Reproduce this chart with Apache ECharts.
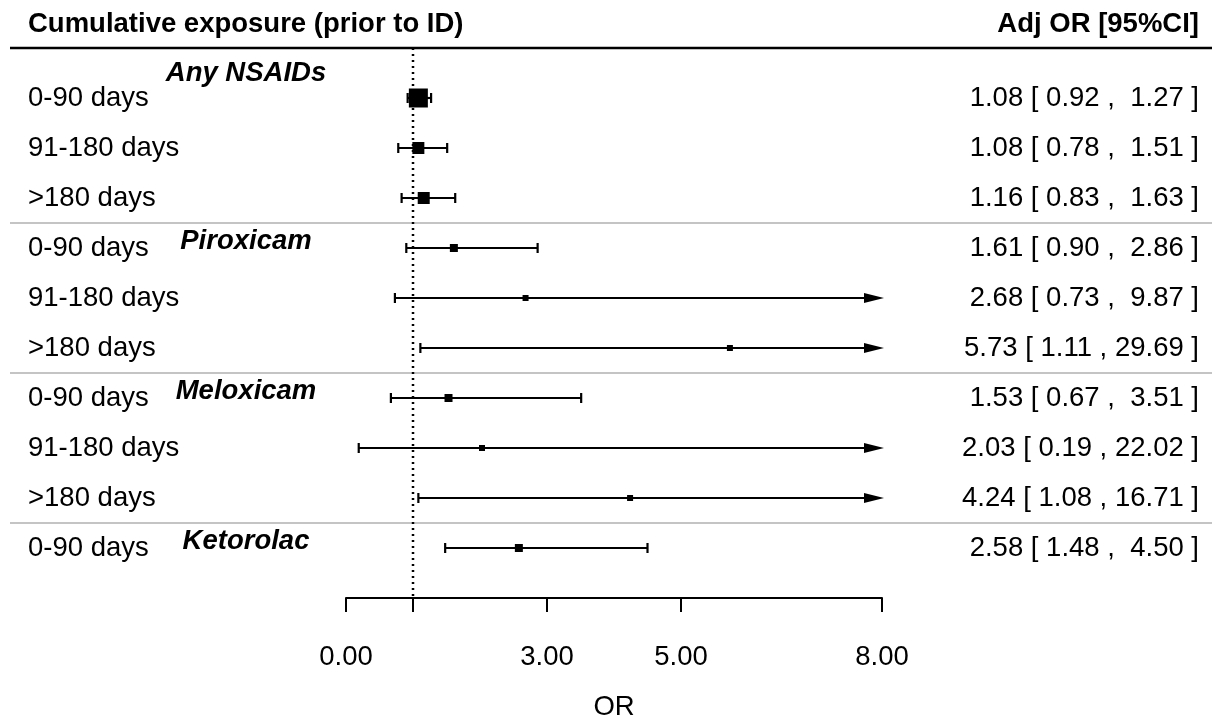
<!DOCTYPE html>
<html>
<head>
<meta charset="utf-8">
<script src="https://cdn.jsdelivr.net/npm/echarts@6/dist/echarts.min.js"></script>
<style>
  html, body { margin: 0; padding: 0; background: #fff; }
  #chart { width: 1212px; height: 719px; }
</style>
</head>
<body>
<div id="chart"></div>
<script>
// rows of the forest plot
const rowLabels = ['0-90 days', '91-180 days', '>180 days',
                   '0-90 days', '91-180 days', '>180 days',
                   '0-90 days', '91-180 days', '>180 days',
                   '0-90 days'];
const orValues = [1.08, 1.08, 1.16, 1.61, 2.68, 5.73, 1.53, 2.03, 4.24, 2.58];
const ciLower  = [0.92, 0.78, 0.83, 0.90, 0.73, 1.11, 0.67, 0.19, 1.08, 1.48];
const ciUpper  = [1.27, 1.51, 1.63, 2.86, 9.87, 29.69, 3.51, 22.02, 16.71, 4.50];

const groupNames = ['Any NSAIDs', 'Piroxicam', 'Meloxicam', 'Ketorolac'];
const groupStart = [0, 3, 6, 9];

const xTicks = [0, 1, 3, 5, 8];
const xTickLabels = [0, 3, 5, 8];
const refValue = 1;

// box sizes as drawn (px)
const boxSizes = [19, 12, 12, 8, 6, 6, 8, 6, 6, 8];

const FONT = '"Liberation Sans", Arial, sans-serif';
const FS = 27.5;
const X_MAX = 8;

const chart = echarts.init(document.getElementById('chart'));

const fmtRow = i =>
  orValues[i].toFixed(2) + ' [ ' + ciLower[i].toFixed(2) + ' , ' +
  ciUpper[i].toFixed(2).padStart(5, ' ') + ' ]';

const rowData = orValues.map((v, i) => [i, v, ciLower[i], ciUpper[i]]);

function renderRow(params, api) {
  const i = params.dataIndex;
  const row = api.value(0);
  const lo = api.value(2), hi = api.value(3), or = api.value(1);
  const y = api.coord([0, row])[1];
  const xLo = api.coord([lo, row])[0];
  const xOr = api.coord([or, row])[0];
  const clipped = hi > X_MAX;
  const xHi = api.coord([clipped ? X_MAX : hi, row])[0];
  const arrowLen = 18, arrowH = 5, cap = 5;
  const lineStyle = { stroke: '#000', lineWidth: 2.2 };
  const children = [];
  children.push({ type: 'line', shape: { x1: xLo, y1: y, x2: clipped ? xHi - arrowLen : xHi, y2: y }, style: lineStyle });
  children.push({ type: 'line', shape: { x1: xLo, y1: y - cap, x2: xLo, y2: y + cap }, style: lineStyle });
  if (clipped) {
    children.push({ type: 'polygon', shape: { points: [[xHi - arrowLen, y - arrowH], [xHi + 2, y], [xHi - arrowLen, y + arrowH]] }, style: { fill: '#000' } });
  } else {
    children.push({ type: 'line', shape: { x1: xHi, y1: y - cap, x2: xHi, y2: y + cap }, style: lineStyle });
  }
  const s = boxSizes[i];
  children.push({ type: 'rect', shape: { x: xOr - s / 2, y: y - s / 2, width: s, height: s }, style: { fill: '#000' } });
  children.push({ type: 'text', x: 28, y: y, style: { text: rowLabels[i], font: FS + 'px ' + FONT, fill: '#000', align: 'left', verticalAlign: 'middle' } });
  children.push({ type: 'text', x: 1199, y: y, style: { text: fmtRow(i), font: FS + 'px ' + FONT, fill: '#000', align: 'right', verticalAlign: 'middle' } });
  return { type: 'group', children: children };
}

function renderGroup(params, api) {
  const row = api.value(0);
  const y = api.coord([0, row])[1] - (params.dataIndex === 0 ? 25 : 7);
  return {
    type: 'text', x: 246, y: y,
    style: { text: groupNames[params.dataIndex], font: 'italic bold ' + FS + 'px ' + FONT, fill: '#000', align: 'center', verticalAlign: 'middle' }
  };
}

function renderSeparator(params, api) {
  const y = Math.round(api.coord([0, api.value(0)])[1]);
  const top = params.dataIndex === 0;
  return {
    type: 'line',
    shape: { x1: 10, y1: y, x2: 1212, y2: y },
    style: { stroke: top ? '#000' : '#c4c4c4', lineWidth: top ? 2.5 : 2 }
  };
}

function renderRef(params, api) {
  const x = api.coord([api.value(0), 0])[0];
  const cs = params.coordSys;
  return {
    type: 'line',
    shape: { x1: x, y1: cs.y, x2: x, y2: cs.y + cs.height },
    style: { stroke: '#000', lineWidth: 2.5, lineDash: [2, 4] }
  };
}

const separators = [-1].concat(groupStart.slice(1).map(g => g - 0.5));

const option = {
  animation: false,
  backgroundColor: '#fff',
  textStyle: { fontFamily: FONT },
  grid: { left: 346, right: 330, top: 48, bottom: 121, containLabel: false, outerBoundsMode: 'none' },
  graphic: [
    { type: 'text', left: 28, top: 10, style: { text: 'Cumulative exposure (prior to ID)', font: 'bold ' + FS + 'px ' + FONT, fill: '#000' } },
    { type: 'text', right: 13, top: 10, style: { text: 'Adj OR [95%CI]', font: 'bold ' + FS + 'px ' + FONT, fill: '#000' } }
  ],
  xAxis: {
    type: 'value',
    min: 0,
    max: X_MAX,
    name: 'OR',
    nameLocation: 'middle',
    nameGap: 95,
    nameTextStyle: { fontSize: FS, color: '#000', fontFamily: FONT },
    splitLine: { show: false },
    axisLine: { show: true, onZero: false, lineStyle: { color: '#000', width: 2 } },
    axisTick: { show: true, length: 14, customValues: xTicks, lineStyle: { color: '#000', width: 2 } },
    axisLabel: { customValues: xTickLabels, margin: 45, fontSize: FS, color: '#000', fontFamily: FONT, formatter: v => Number(v).toFixed(2) }
  },
  yAxis: {
    type: 'value',
    min: -1,
    max: 10,
    inverse: true,
    show: false
  },
  series: [
    { type: 'custom', renderItem: renderSeparator, data: separators.map(v => [v]), clip: false, silent: true },
    { type: 'custom', renderItem: renderRef, data: [[refValue]], clip: false, silent: true },
    { type: 'custom', renderItem: renderRow, data: rowData, clip: false, silent: true },
    { type: 'custom', renderItem: renderGroup, data: groupStart.map(g => [g]), clip: false, silent: true }
  ]
};

chart.setOption(option);
</script>
</body>
</html>
